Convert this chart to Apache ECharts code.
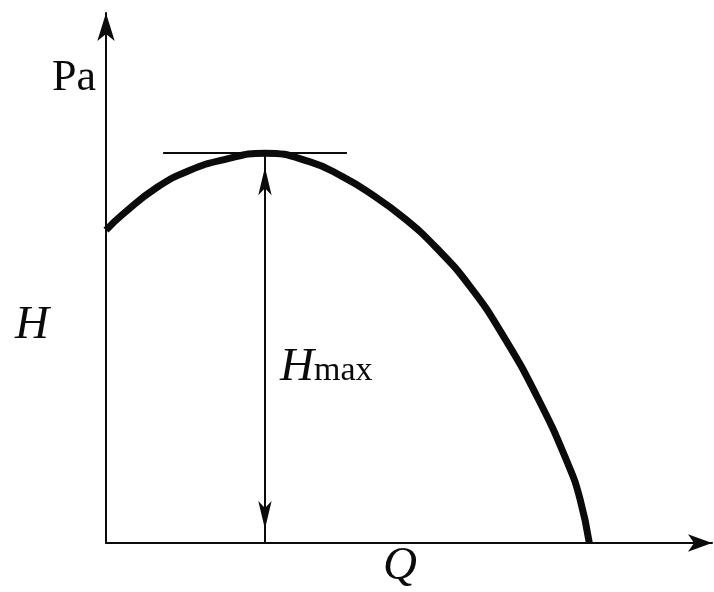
<!DOCTYPE html>
<html>
<head>
<meta charset="utf-8">
<script src="https://cdn.jsdelivr.net/npm/echarts@6/dist/echarts.min.js"></script>
<style>
    html, body { margin: 0; padding: 0; background: #fff; }
    #chart { width: 714px; height: 592px; }
</style>
</head>
<body>
<div id="chart"></div>
<script>
// H-Q 曲线数据
const qValues = [0, 0.34, 1.03, 1.69, 2.36, 3.2, 4.11, 4.77, 5.32, 5.98, 6.66, 7.33, 7.97, 8.7, 9.3, 9.54, 9.73];
const hValues = [6.05, 6.36, 6.88, 7.21, 7.41, 7.54, 7.37, 7.08, 6.76, 6.3, 5.7, 4.96, 4.05, 2.79, 1.53, 0.86, 0];

// 最高点和切线范围
const peakQ = 3.2;
const peakH = 7.54;
const tangentRange = [1.15, 4.85];

const ink = '#0b0b0b';
const serif = '"Liberation Serif", "DejaVu Serif", serif';

let chart = echarts.init(document.getElementById('chart'));

let curve = qValues.map((q, i) => [q, hValues[i]]);

chart.setOption({
    animation: false,
    backgroundColor: '#fff',
    grid: { left: 106, right: 2, top: 13, bottom: 49 },
    xAxis: {
        type: 'value',
        min: 0,
        max: 12.2,
        axisLine: {
            lineStyle: { color: ink, width: 2 },
            symbol: ['none', 'arrow'],
            symbolSize: [13, 24]
        },
        axisTick: { show: false },
        axisLabel: { show: false },
        splitLine: { show: false }
    },
    yAxis: {
        type: 'value',
        min: 0,
        max: 10.25,
        axisLine: {
            show: true,
            lineStyle: { color: ink, width: 2 },
            symbol: ['none', 'arrow'],
            symbolSize: [13, 28]
        },
        axisTick: { show: false },
        axisLabel: { show: false },
        splitLine: { show: false }
    },
    graphic: [
        { type: 'text', left: 52, top: 56, style: { text: 'Pa', font: '44px ' + serif, fill: ink } },
        { type: 'text', left: 15, top: 302, style: { text: 'H', font: 'italic 47px ' + serif, fill: ink } },
        { type: 'text', left: 383, top: 543, style: { text: 'Q', font: 'italic 47px ' + serif, fill: ink } },
        {
            type: 'text', left: 280, top: 344,
            style: {
                text: '{h|H}{s|max}',
                fill: ink,
                rich: {
                    h: { font: 'italic 47px ' + serif, fill: ink, verticalAlign: 'bottom' },
                    s: { font: '34px ' + serif, fill: ink, verticalAlign: 'bottom', padding: [0, 0, 3, 0] }
                }
            }
        }
    ],
    series: [
        {
            type: 'line',
            data: curve,
            smooth: true,
            showSymbol: false,
            silent: true,
            lineStyle: { color: ink, width: 7 },
            markLine: {
                silent: true,
                symbol: 'none',
                label: { show: false },
                lineStyle: { color: ink, width: 2, type: 'solid' },
                data: [[{ coord: [tangentRange[0], peakH] }, { coord: [tangentRange[1], peakH] }]]
            }
        },
        {
            type: 'line',
            data: [],
            markLine: {
                silent: true,
                symbol: ['arrow', 'arrow'],
                symbolSize: [10, 28],
                symbolOffset: [[0, 14], [0, 14]],
                label: { show: false },
                lineStyle: { color: ink, width: 2, type: 'solid' },
                data: [[{ coord: [peakQ, 0] }, { coord: [peakQ, peakH] }]]
            }
        }
    ]
});
</script>
</body>
</html>
